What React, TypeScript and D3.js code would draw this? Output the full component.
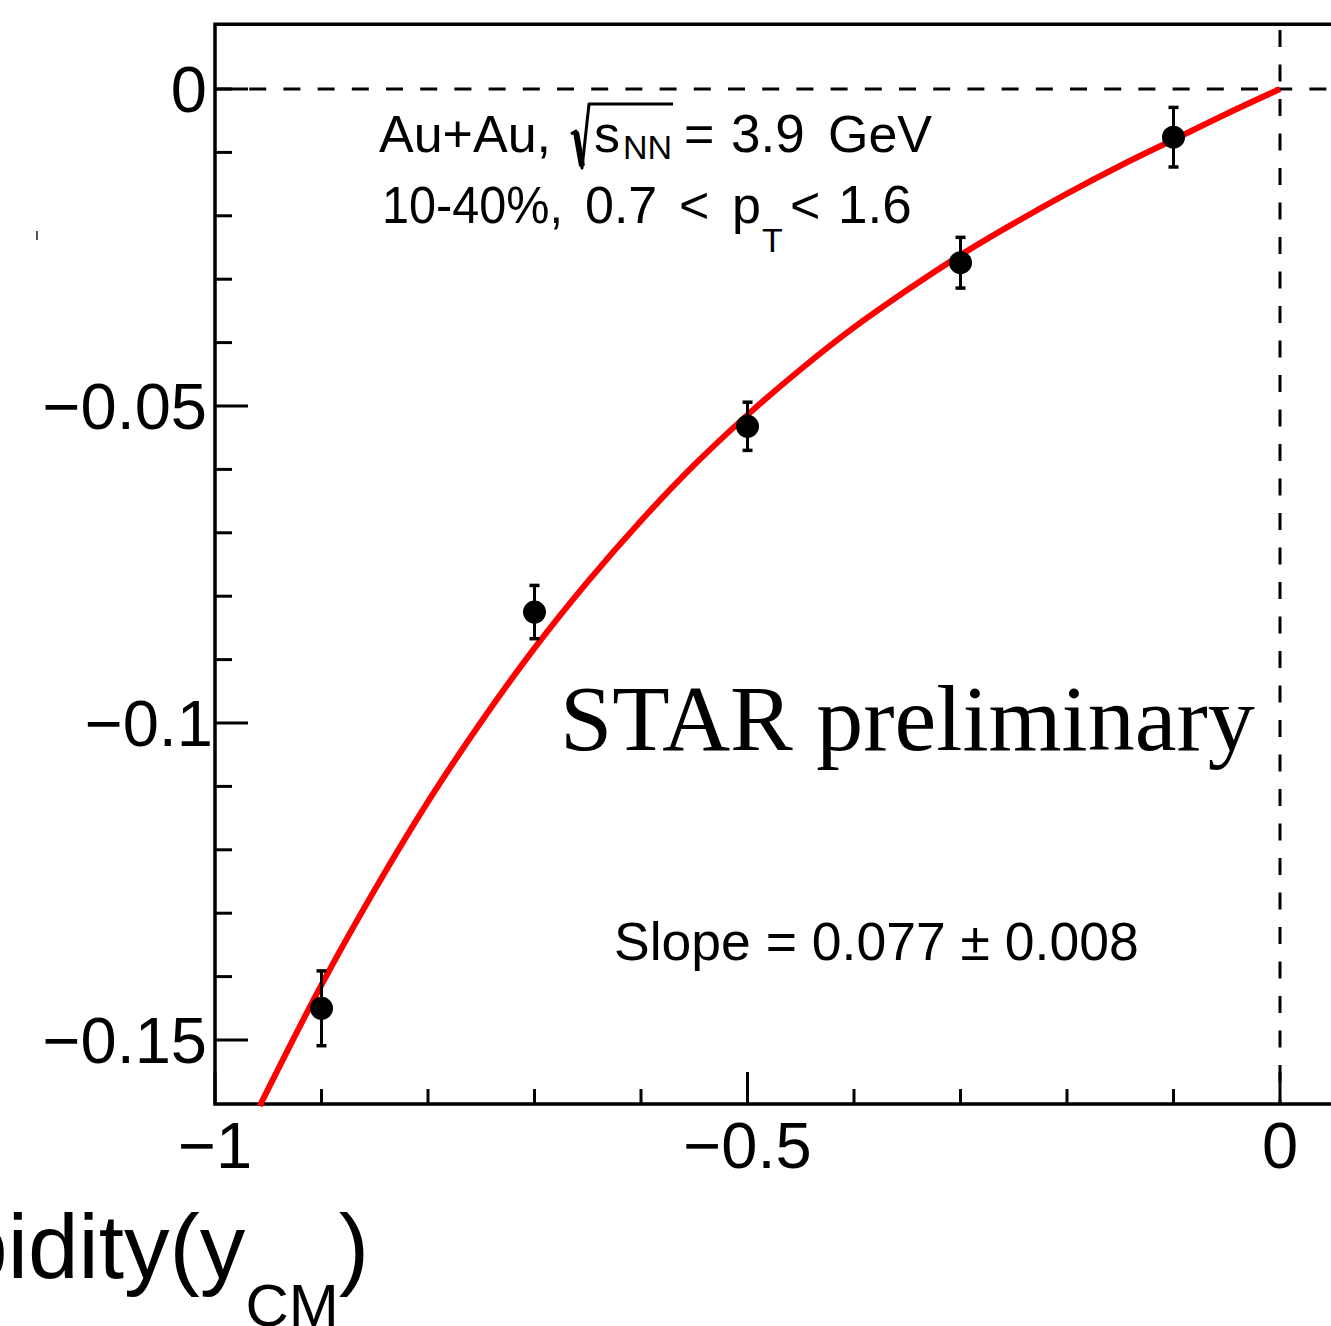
import * as d3 from 'd3';

// rapidity values of the measured points
const pointX = [-0.9, -0.7, -0.5, -0.3, -0.1];
const pointY = [-0.145, -0.0825, -0.0532, -0.0274, -0.0076];
const pointErr = [0.0059, 0.0042, 0.0038, 0.004, 0.0047];

// fit curve (red)
const fitX = [-0.958, -0.9, -0.85, -0.8, -0.75, -0.7, -0.65, -0.6, -0.55, -0.5, -0.45, -0.4, -0.35, -0.3, -0.25, -0.2, -0.15, -0.1, -0.05, 0];
const fitY = [-0.1604, -0.1413, -0.1263, -0.1124, -0.0998, -0.0882, -0.0777, -0.0681, -0.0593, -0.0514, -0.0442, -0.0376, -0.0317, -0.0262, -0.0212, -0.0165, -0.0121, -0.008, -0.0039, 0];

const yMajorTicks = [0, -0.05, -0.1, -0.15];
const yTickLabels = ['0', '\u22120.05', '\u22120.1', '\u22120.15'];
const yMinorTicks = [-0.01, -0.02, -0.03, -0.04, -0.06, -0.07, -0.08, -0.09, -0.11, -0.12, -0.13, -0.14];

const xMajorTicks = [-1, -0.5, 0];
const xTickLabels = ['\u22121', '\u22120.5', '0'];
const xMinorTicks = [-0.9, -0.8, -0.7, -0.6, -0.4, -0.3, -0.2, -0.1];

const W = 1331;
const H = 1326;

const SANS = '"Liberation Sans", Arial, Helvetica, sans-serif';
const SERIF = '"Liberation Serif", "Times New Roman", serif';

export default function App() {
  const x = d3.scaleLinear().domain([-1, 0]).range([215, 1280]);
  const y = d3.scaleLinear().domain([0, -0.15]).range([89, 1040]);

  const left = x(-1);
  const right = x(0.06);
  const top = y(0.0102);
  const bottom = y(-0.1601);

  const line = d3
    .line<number>()
    .x((_, i) => x(fitX[i]))
    .y(d => y(d))
    .curve(d3.curveMonotoneX);

  return (
    <div style={{ position: 'absolute', left: 0, top: 0 }}>
      <svg width={W} height={H} style={{ display: 'block', background: '#fff' }}>
        <rect x={0} y={0} width={W} height={H} fill="#fff" />

        {/* reference lines */}
        <line x1={left} x2={right} y1={y(0)} y2={y(0)} stroke="#000" strokeWidth={3} strokeDasharray="17 17.2" />
        <line x1={x(0)} x2={x(0)} y1={30} y2={bottom} stroke="#000" strokeWidth={3} strokeDasharray="17 17.5" />

        {/* frame */}
        <path
          d={`M${right},${top} L${left},${top} L${left},${bottom} L${right},${bottom}`}
          fill="none"
          stroke="#000"
          strokeWidth={3.5}
        />

        {/* y ticks */}
        {yMajorTicks.map((t, i) => (
          <g key={'ym' + i}>
            <line x1={left} x2={left + 33} y1={y(t)} y2={y(t)} stroke="#000" strokeWidth={3} />
            <text
              x={t === -0.1 ? 213 : 207}
              y={y(t) + 23}
              textAnchor="end"
              fontFamily={SANS}
              fontSize={65}
              fill="#000"
            >
              {yTickLabels[i]}
            </text>
          </g>
        ))}
        {yMinorTicks.map((t, i) => (
          <line key={'yn' + i} x1={left} x2={left + 17} y1={y(t)} y2={y(t)} stroke="#000" strokeWidth={3} />
        ))}

        {/* x ticks */}
        {xMajorTicks.map((t, i) => (
          <g key={'xm' + i}>
            <line x1={x(t)} x2={x(t)} y1={bottom} y2={bottom - 32} stroke="#000" strokeWidth={3} />
            <text
              x={x(t)}
              y={1168}
              textAnchor="middle"
              fontFamily={SANS}
              fontSize={65}
              fill="#000"
            >
              {xTickLabels[i]}
            </text>
          </g>
        ))}
        {xMinorTicks.map((t, i) => (
          <line key={'xn' + i} x1={x(t)} x2={x(t)} y1={bottom} y2={bottom - 15} stroke="#000" strokeWidth={3} />
        ))}

        {/* axis title, cut off at the left like the reference */}
        <text x={369} y={1278} textAnchor="end" fontFamily={SANS} fontSize={91} fill="#000">
          Rapidity(y
          <tspan dy={48} fontSize={60}>CM</tspan>
          <tspan dy={-48}>)</tspan>
        </text>

        {/* leftover mark of the y title */}
        <line x1={37} x2={37} y1={231} y2={240} stroke="#555" strokeWidth={2} />

        {/* fit */}
        <path d={line(fitY) || ''} fill="none" stroke="#ff0000" strokeWidth={6} />

        {/* data points */}
        {pointX.map((px, i) => {
          const cx = x(px);
          const y1 = y(pointY[i] + pointErr[i]);
          const y2 = y(pointY[i] - pointErr[i]);
          return (
            <g key={'p' + i}>
              <line x1={cx} x2={cx} y1={y1} y2={y2} stroke="#000" strokeWidth={3} />
              <line x1={cx - 5} x2={cx + 5} y1={y1} y2={y1} stroke="#000" strokeWidth={3.5} />
              <line x1={cx - 5} x2={cx + 5} y1={y2} y2={y2} stroke="#000" strokeWidth={3.5} />
              <circle cx={cx} cy={y(pointY[i])} r={11.5} fill="#000" />
            </g>
          );
        })}

        {/* labels */}
        <g fontFamily={SANS} fill="#000">
          <text x={379} y={152} fontSize={52}>Au+Au,</text>
          <path d="M571,134 L576,131 L582,168 L589,104 L673,104" fill="none" stroke="#000" strokeWidth={3} strokeLinejoin="round" />
          <line x1={576} x2={582} y1={132} y2={166} stroke="#000" strokeWidth={6} />
          <text x={594} y={152} fontSize={52}>s</text>
          <text x={623} y={159} fontSize={34}>NN</text>
          <text x={684} y={152} fontSize={52}>=</text>
          <text x={731} y={152} fontSize={53}>3.9</text>
          <text x={828} y={152} fontSize={52}>GeV</text>

          <text x={382} y={223} fontSize={52} textLength={181} lengthAdjust="spacingAndGlyphs">10-40%,</text>
          <text x={585} y={223} fontSize={52}>0.7</text>
          <text x={679} y={223} fontSize={52}>&lt;</text>
          <text x={732} y={223} fontSize={52}>p</text>
          <text x={762} y={252} fontSize={34}>T</text>
          <text x={790} y={223} fontSize={52}>&lt;</text>
          <text x={838} y={223} fontSize={53}>1.6</text>

          <text x={614} y={960} fontSize={53.5}>Slope = 0.077 ± 0.008</text>
        </g>
        <text x={560} y={750} fontFamily={SERIF} fontSize={94} fill="#000">
          STAR preliminary
        </text>
      </svg>
    </div>
  );
}
